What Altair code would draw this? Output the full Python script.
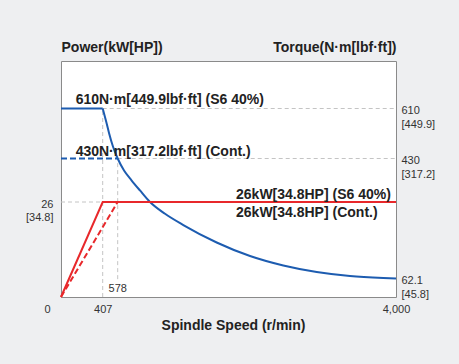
import altair as alt
import pandas as pd

# ---------------- data ----------------
speed_ticks = [0, 407, 4000]
speed_mark = 578
power_tick = 26
torque_ticks = [610, 430, 62.1]

# flat (constant torque) parts
s6_torque_speed = [0, 407]
s6_torque_value = [610, 610]
cont_torque_speed = [0, 578]
cont_torque_value = [430, 430]

# falling torque curve (constant power region)
curve_speed = [407, 445, 479, 524, 578, 656, 750, 852, 975, 1160, 1385, 1795, 2205, 2614, 3025, 3434, 3844, 4000]
curve_torque = [610, 565, 522, 473, 430, 393, 362.5, 332, 296.6, 260.5, 226, 172.5, 131, 102, 82, 69.7, 63.6, 62.1]

# power lines
s6_power_speed = [0, 407, 4000]
s6_power_value = [0, 26, 26]
cont_power_speed = [0, 578]
cont_power_value = [0, 26]

torque_notes = ["610N·m[449.9lbf·ft] (S6 40%)", "430N·m[317.2lbf·ft] (Cont.)"]
torque_note_speed = [143, 143]
torque_note_value = [625, 440]

power_notes = ["26kW[34.8HP] (S6 40%)", "26kW[34.8HP] (Cont.)"]
power_note_speed = [2033, 2033]
power_note_value = [26.8, 22.0]

# dashed guide lines
torque_guides = pd.DataFrame({
    "speed": [407, 578, 407, 578],
    "speed2": [4000, 4000, 407, 578],
    "torque": [610, 430, 0, 60],
    "torque2": [610, 430, 610, 430],
})
power_guides = pd.DataFrame({"speed": [0], "speed2": [407], "power": [26], "power2": [26]})

# ---------------- styling ----------------
BLUE = "#1d5cb0"
RED = "#e8282b"
GRID = "#c4c4c4"
FONT = "Liberation Sans"
W, H = 335, 236

xscale = alt.Scale(domain=[0, 407, 578, 4000], range=[0, 41.7, 56.7, W], nice=False, zero=False)
tscale = alt.Scale(domain=[0, 62.1, 430, 610], range=[H, 217.5, 97.5, 47.5], nice=False, zero=False)
pscale = alt.Scale(domain=[0, 26], range=[H, 141], nice=False, zero=False)

x_axis = alt.Axis(
    values=speed_ticks, title="Spindle Speed (r/min)", labelFontSize=11, labelColor="#333",
    labelFont=FONT, ticks=False, tickSize=0, domain=False, grid=False, labelPadding=6,
    labelFlush=False, labelOverlap=False,
    labelOffset={"condition": {"test": "datum.value == 0", "value": -14}, "value": 0},
    titleFont=FONT, titleFontSize=14, titleFontWeight="bold", titleColor="#222",
    titleX=172, titleY=28, titleBaseline="middle", titleAlign="center",
)
t_axis = alt.Axis(
    orient="right", values=torque_ticks,
    labelExpr="datum.value == 610 ? ['610', '[449.9]'] : datum.value == 430 ? ['430', '[317.2]'] : ['62.1', '[45.8]']",
    labelAlign="left", labelBaseline="top", labelOffset=-4, labelPadding=5, labelLineHeight=13.5,
    ticks=False, tickSize=0, domain=False, grid=False, labelFontSize=11, labelColor="#333",
    labelFont=FONT, labelFlush=False, labelOverlap=False,
    title="Torque(N·m[lbf·ft])", titleAngle=0, titleAlign="right", titleBaseline="middle",
    titleX=0, titleY=-14, titleFont=FONT, titleFontSize=14, titleFontWeight="bold", titleColor="#222",
)
p_axis = alt.Axis(
    orient="left", values=[power_tick], labelExpr="['26', '[34.8]']",
    labelAlign="right", labelBaseline="top", labelOffset=-4, labelPadding=8, labelLineHeight=13,
    ticks=False, tickSize=0, domain=False, grid=False, labelFontSize=11, labelColor="#333",
    labelFont=FONT, labelFlush=False, labelOverlap=False,
    title="Power(kW[HP])", titleAngle=0, titleAlign="left", titleBaseline="middle",
    titleX=0, titleY=-14, titleFont=FONT, titleFontSize=14, titleFontWeight="bold", titleColor="#222",
)

X = lambda: alt.X("speed:Q", scale=xscale, axis=x_axis)
YT = lambda: alt.Y("torque:Q", scale=tscale, axis=t_axis)
YP = lambda: alt.Y("power:Q", scale=pscale, axis=p_axis)

# ---------------- torque group ----------------
t_guides = alt.Chart(torque_guides).mark_rule(color=GRID, strokeWidth=1, strokeDash=[4, 3]).encode(
    x=X(), x2="speed2:Q", y=YT(), y2="torque2:Q")
t_cont = alt.Chart(pd.DataFrame({"speed": cont_torque_speed, "torque": cont_torque_value})).mark_line(
    color=BLUE, strokeWidth=2.2, strokeDash=[6, 3]).encode(x=X(), y=YT())
t_flat = alt.Chart(pd.DataFrame({"speed": s6_torque_speed, "torque": s6_torque_value})).mark_line(
    color=BLUE, strokeWidth=2).encode(x=X(), y=YT())
t_curve = alt.Chart(pd.DataFrame({"speed": curve_speed, "torque": curve_torque})).mark_line(
    color=BLUE, strokeWidth=2, interpolate="monotone").encode(x=X(), y=YT())
t_text = alt.Chart(pd.DataFrame({"speed": torque_note_speed, "torque": torque_note_value, "t": torque_notes})).mark_text(
    align="left", baseline="alphabetic", font=FONT, fontSize=14, fontWeight="bold", color="#222").encode(
    x=X(), y=YT(), text="t:N")
t_578 = alt.Chart(pd.DataFrame({"speed": [speed_mark], "torque": [26.8], "t": [str(speed_mark)]})).mark_text(
    align="center", baseline="middle", font=FONT, fontSize=11, color="#333").encode(x=X(), y=YT(), text="t:N")
torque_group = alt.layer(t_guides, t_cont, t_flat, t_curve, t_text, t_578)

# ---------------- power group ----------------
p_guides = alt.Chart(power_guides).mark_rule(color=GRID, strokeWidth=1, strokeDash=[4, 3]).encode(
    x=X(), x2="speed2:Q", y=YP(), y2="power2:Q")
p_cont = alt.Chart(pd.DataFrame({"speed": cont_power_speed, "power": cont_power_value})).mark_line(
    color=RED, strokeWidth=2, strokeDash=[6, 3]).encode(x=X(), y=YP())
p_s6 = alt.Chart(pd.DataFrame({"speed": s6_power_speed, "power": s6_power_value})).mark_line(
    color=RED, strokeWidth=2).encode(x=X(), y=YP())
p_text = alt.Chart(pd.DataFrame({"speed": power_note_speed, "power": power_note_value, "t": power_notes})).mark_text(
    align="left", baseline="alphabetic", font=FONT, fontSize=14, fontWeight="bold", color="#222").encode(
    x=X(), y=YP(), text="t:N")
power_group = alt.layer(p_guides, p_cont, p_s6, p_text)

chart = alt.layer(torque_group, power_group).resolve_scale(y="independent").properties(
    width=W, height=H,
    autosize=alt.AutoSizeParams(type="none"),
    padding={"left": 53, "top": 53, "right": 55, "bottom": 60},
    background="#eeeff1",
).configure_view(fill="white", stroke="#8a8a8a", strokeWidth=1)

EMBED = {"renderer": "svg", "actions": False}
try:
    import jinja2
    from altair.utils.html import TEMPLATES
    _base = TEMPLATES["standard"]
    _tpl = jinja2.Template("")
    _tpl.render = lambda *a, **kw: _base.render(*a, **kw).replace(
        "<style>", "<style>\n    html, body { background: #eeeff1; }", 1)
    chart.save("out.html", embed_options=EMBED, template=_tpl)
except Exception:
    chart.save("out.html", embed_options=EMBED)
